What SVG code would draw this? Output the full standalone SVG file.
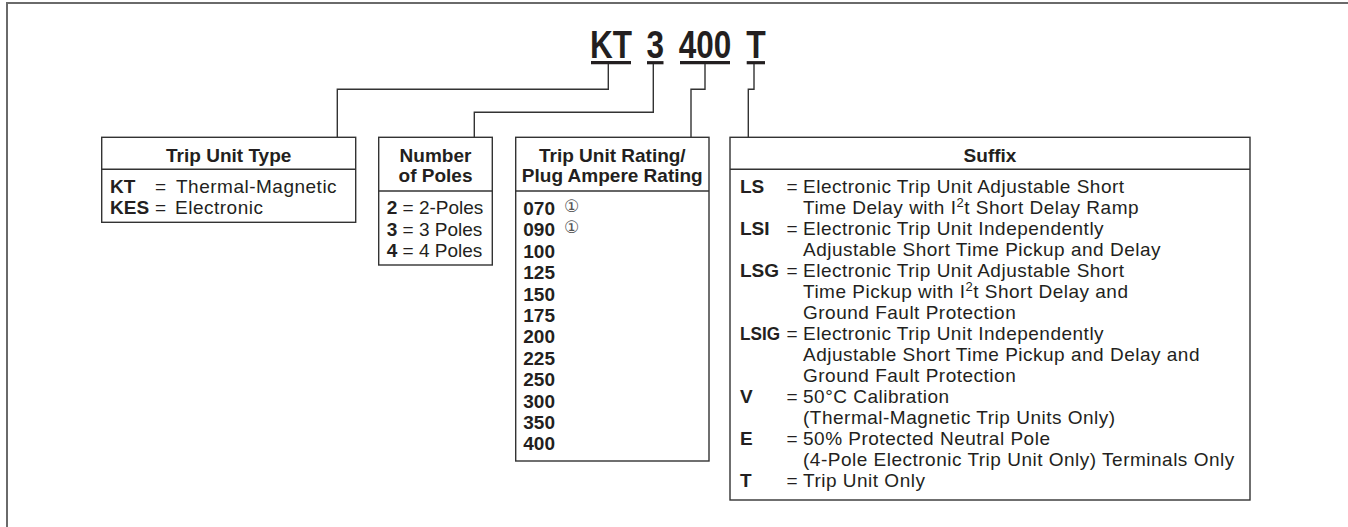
<svg xmlns="http://www.w3.org/2000/svg" width="1348" height="527" viewBox="0 0 1348 527">
<style>
text{font-family:"Liberation Sans",Arial,sans-serif;fill:#231f20;font-size:19px}
.b{font-weight:bold}
.r{letter-spacing:0.5px}
.h{font-weight:bold;text-anchor:middle}
.title{font-weight:bold;font-size:38px;text-anchor:middle}
.box{fill:none;stroke:#333;stroke-width:1.4}
.conn{fill:none;stroke:#333;stroke-width:1.4}
.ul{stroke:#231f20;stroke-width:3.2}
.sup{font-size:13px}
.circ{font-family:"DejaVu Sans",sans-serif;font-size:17px;fill:#555}
</style>
<path d="M7,527 V3 H1348" fill="none" stroke="#6a6a6a" stroke-width="2"/>
<g id="title">
<text class="title" x="611" y="57.7" textLength="42" lengthAdjust="spacingAndGlyphs">KT</text>
<text class="title" x="655.3" y="57.7" textLength="17.5" lengthAdjust="spacingAndGlyphs">3</text>
<text class="title" x="705" y="57.7" textLength="52.5" lengthAdjust="spacingAndGlyphs">400</text>
<text class="title" x="756" y="57.7" textLength="19.5" lengthAdjust="spacingAndGlyphs">T</text>
<line class="ul" x1="591" y1="62.7" x2="631" y2="62.7"/>
<line class="ul" x1="647" y1="62.7" x2="663.5" y2="62.7"/>
<line class="ul" x1="680" y1="62.7" x2="730" y2="62.7"/>
<line class="ul" x1="746.7" y1="62.7" x2="765" y2="62.7"/>
</g>
<g id="connectors">
<path class="conn" d="M608.3,64 V89.3 H337.3 V137.3"/>
<path class="conn" d="M653.3,64 V112.3 H474.3 V137.3"/>
<path class="conn" d="M705,64 V89.3 H691 V137.3"/>
<path class="conn" d="M754,64 V89.3 H748.3 V137.3"/>
</g>
<g id="trip-unit-type">
<rect class="box" x="101.7" y="137.3" width="254" height="85"/>
<line class="box" x1="101.7" y1="169.3" x2="355.7" y2="169.3"/>
<text class="h" x="228.7" y="161.7">Trip Unit Type</text>
<text class="b" x="110" y="193.3">KT</text>
<text class="r" x="155" y="193.3">=</text>
<text class="r" x="176" y="193.3">Thermal-Magnetic</text>
<text class="b" x="110" y="213.5">KES</text>
<text class="r" x="155" y="213.5">=</text>
<text class="r" x="175" y="213.5">Electronic</text>
</g>
<g id="number-of-poles">
<rect class="box" x="378.7" y="137.3" width="113.6" height="127.7"/>
<line class="box" x1="378.7" y1="191" x2="492.3" y2="191"/>
<text class="h" x="435.5" y="161.7">Number</text>
<text class="h" x="435.5" y="182.3">of Poles</text>
<text x="386.7" y="214"><tspan class="b">2</tspan> = 2-Poles</text>
<text x="386.7" y="235.5"><tspan class="b">3</tspan> = 3 Poles</text>
<text x="386.7" y="257"><tspan class="b">4</tspan> = 4 Poles</text>
</g>
<g id="trip-unit-rating">
<rect class="box" x="515.7" y="137.3" width="193.3" height="323.7"/>
<line class="box" x1="515.7" y1="191" x2="709" y2="191"/>
<text class="h" x="612.3" y="161.7">Trip Unit Rating/</text>
<text class="h" x="612.3" y="182.3">Plug Ampere Rating</text>
<text class="b" x="523.3" y="215">070</text><text class="circ" x="564" y="212">①</text>
<text class="b" x="523.3" y="236.4">090</text><text class="circ" x="564" y="233.4">①</text>
<text class="b" x="523.3" y="257.8">100</text>
<text class="b" x="523.3" y="279.2">125</text>
<text class="b" x="523.3" y="300.6">150</text>
<text class="b" x="523.3" y="322">175</text>
<text class="b" x="523.3" y="343.4">200</text>
<text class="b" x="523.3" y="364.8">225</text>
<text class="b" x="523.3" y="386.2">250</text>
<text class="b" x="523.3" y="407.6">300</text>
<text class="b" x="523.3" y="429">350</text>
<text class="b" x="523.3" y="450.4">400</text>
</g>
<g id="suffix">
<rect class="box" x="730" y="137.3" width="520" height="362.7"/>
<line class="box" x1="730" y1="169.3" x2="1250" y2="169.3"/>
<text class="h" x="990" y="161.7">Suffix</text>
<text class="b" x="740" y="193">LS</text><text class="r" x="786.5" y="193">=</text>
<text class="r" x="803" y="193">Electronic Trip Unit Adjustable Short</text>
<text class="r" x="803" y="214">Time Delay with I<tspan class="sup" dy="-7">2</tspan><tspan dy="7">t Short Delay Ramp</tspan></text>
<text class="b" x="740" y="235">LSI</text><text class="r" x="786.5" y="235">=</text>
<text class="r" x="803" y="235">Electronic Trip Unit Independently</text>
<text class="r" x="803" y="256">Adjustable Short Time Pickup and Delay</text>
<text class="b" x="740" y="277">LSG</text><text class="r" x="786.5" y="277">=</text>
<text class="r" x="803" y="277">Electronic Trip Unit Adjustable Short</text>
<text class="r" x="803" y="298">Time Pickup with I<tspan class="sup" dy="-7">2</tspan><tspan dy="7">t Short Delay and</tspan></text>
<text class="r" x="803" y="319">Ground Fault Protection</text>
<text class="b" x="740" y="340" textLength="40" lengthAdjust="spacingAndGlyphs">LSIG</text><text class="r" x="786.5" y="340">=</text>
<text class="r" x="803" y="340">Electronic Trip Unit Independently</text>
<text class="r" x="803" y="361">Adjustable Short Time Pickup and Delay and</text>
<text class="r" x="803" y="382">Ground Fault Protection</text>
<text class="b" x="740" y="403">V</text><text class="r" x="786.5" y="403">=</text>
<text class="r" x="803" y="403">50°C Calibration</text>
<text class="r" x="803" y="424">(Thermal-Magnetic Trip Units Only)</text>
<text class="b" x="740" y="445">E</text><text class="r" x="786.5" y="445">=</text>
<text class="r" x="803" y="445">50% Protected Neutral Pole</text>
<text class="r" x="803" y="466">(4-Pole Electronic Trip Unit Only) Terminals Only</text>
<text class="b" x="740" y="487">T</text><text class="r" x="786.5" y="487">=</text>
<text class="r" x="803" y="487">Trip Unit Only</text>
</g>
</svg>
